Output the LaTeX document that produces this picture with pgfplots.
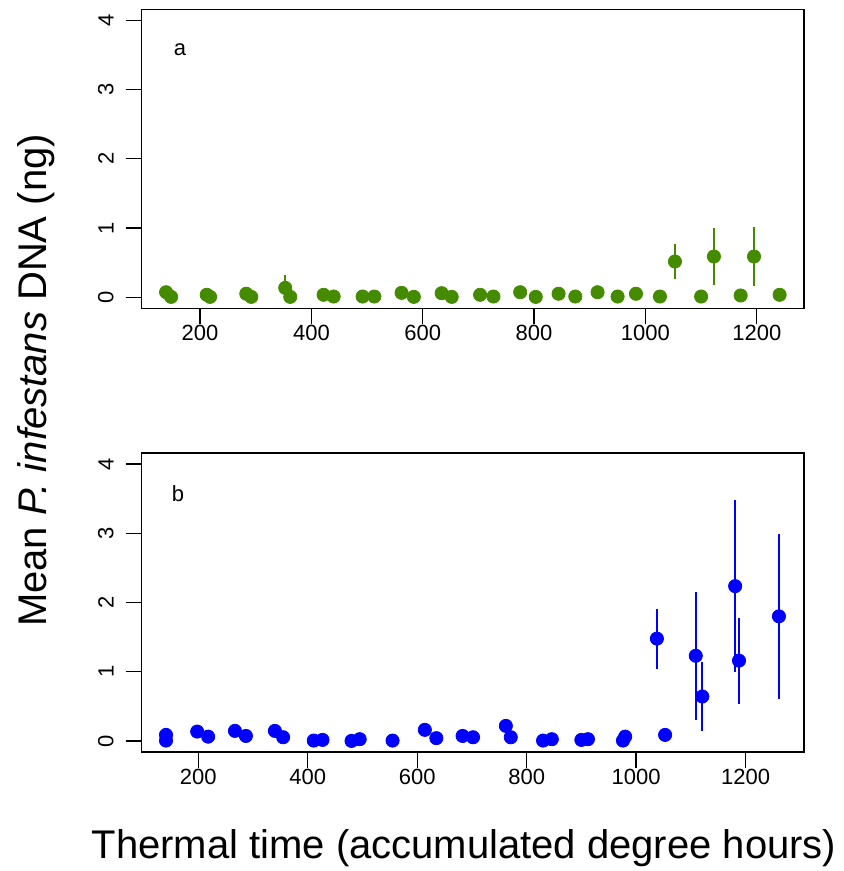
\documentclass[border=0pt]{standalone}
\usepackage{fontspec}
\setmainfont{Liberation Sans}
\usepackage{pgfplots}
\usepackage{pgfplotstable}
\pgfplotsset{compat=1.18}
\definecolor{rgreen}{HTML}{458B00}
\definecolor{rblue}{HTML}{0000FF}

% x, mean, half-length of error bar
\pgfplotstableread{
x y e
139 0.072 0
148 0.005 0
212 0.035 0
218 0.005 0
283 0.050 0
292 0.005 0
353 0.135 0.18
362 0.005 0
422 0.035 0
440 0.010 0
492 0.010 0
513 0.010 0
562 0.063 0
584 0.005 0
634 0.058 0
652 0.005 0
703 0.035 0
727 0.010 0
775 0.072 0
803 0.005 0
844 0.050 0
874 0.010 0
914 0.072 0
950 0.010 0
983 0.050 0
1026 0.010 0
1053 0.516 0.255
1100 0.010 0
1123 0.588 0.405
1171 0.025 0
1195 0.588 0.42
1241 0.035 0
}\dataA

\pgfplotstableread{
x y e
141 0.087 0
141 0.005 0
198 0.135 0
218 0.062 0
267 0.145 0
287 0.072 0
340 0.145 0
355 0.053 0
411 0.005 0
427 0.015 0
480 0.000 0
495 0.025 0
555 0.005 0
614 0.160 0
635 0.040 0
683 0.072 0
702 0.053 0
762 0.217 0
771 0.053 0
830 0.005 0
846 0.025 0
900 0.015 0
912 0.025 0
976 0.005 0
980 0.062 0
1038 1.478 0.435
1053 0.087 0
1109 1.230 0.925
1121 0.642 0.500
1181 2.236 1.245
1188 1.160 0.620
1261 1.800 1.195
}\dataB

\pgfplotstablecreatecol[create col/expr={\thisrow{y}-\thisrow{e}}]{lo}\dataA
\pgfplotstablecreatecol[create col/expr={2*\thisrow{e}}]{len}\dataA
\pgfplotstablecreatecol[create col/expr={\thisrow{y}-\thisrow{e}}]{lo}\dataB
\pgfplotstablecreatecol[create col/expr={2*\thisrow{e}}]{len}\dataB

\pgfplotsset{
  rpanel/.style={
    scale only axis, width=331.2pt, height=149.5pt,
    anchor=south west,
    ymin=-0.16, ymax=4.16, ytick={0,1,2,3,4},
    xtick={200,400,600,800,1000,1200},
    axis line style={line width=0.65pt},
    tick style={line width=0.65pt, black},
    tick align=outside, major tick length=8pt,
    xtick pos=bottom, ytick pos=left,
    /pgf/number format/assume math mode=true,
    /pgf/number format/1000 sep={},
    tick label style={font=\fontsize{11}{13}\selectfont},
    yticklabel style={rotate=90, anchor=south, yshift=2.5pt},
    xticklabel style={yshift=3pt},
  },
  % only rows with a nonzero error get a bar
  rbars/.style={
    quiver={u=0, v=\thisrow{len}}, no marks, line width=1pt, color=#1,
    unbounded coords=discard,
    x filter/.expression={\thisrow{e}>0.001 ? x : nan},
  },
  rpts/.style={
    only marks, mark=*, mark size=3.3pt, color=#1,
    mark options={fill=#1, draw=#1},
  },
}

\begin{document}
\begin{tikzpicture}
\begin{axis}[rpanel, at={(70.85pt,281.35pt)}, xmin=95.2, xmax=1285]
  \addplot[rbars=rgreen] table[x=x, y=lo]{\dataA};
  \addplot[rpts=rgreen] table[x=x, y=y]{\dataA};
  \node[font=\fontsize{11}{13}\selectfont] at (axis cs:164,3.58) {a};
\end{axis}
\begin{axis}[rpanel, at={(70.85pt,59.5pt)}, xmin=96.6, xmax=1307]
  \addplot[rbars=rblue] table[x=x, y=lo]{\dataB};
  \addplot[rpts=rblue] table[x=x, y=y]{\dataB};
  \node[font=\fontsize{11}{13}\selectfont] at (axis cs:163,3.57) {b};
\end{axis}
\node[rotate=90, anchor=base, font=\fontsize{20}{24}\selectfont, inner sep=0pt]
  at (23pt,245.25pt) {Mean \textit{P. infestans} DNA (ng)};
\node[anchor=base, font=\fontsize{20}{24}\selectfont, inner sep=0pt]
  at (232pt,6pt) {Thermal time (accumulated degree hours)};
\pgfresetboundingbox
\path[use as bounding box] (0,0) rectangle (421.5pt,435.5pt);
\end{tikzpicture}
\end{document}
